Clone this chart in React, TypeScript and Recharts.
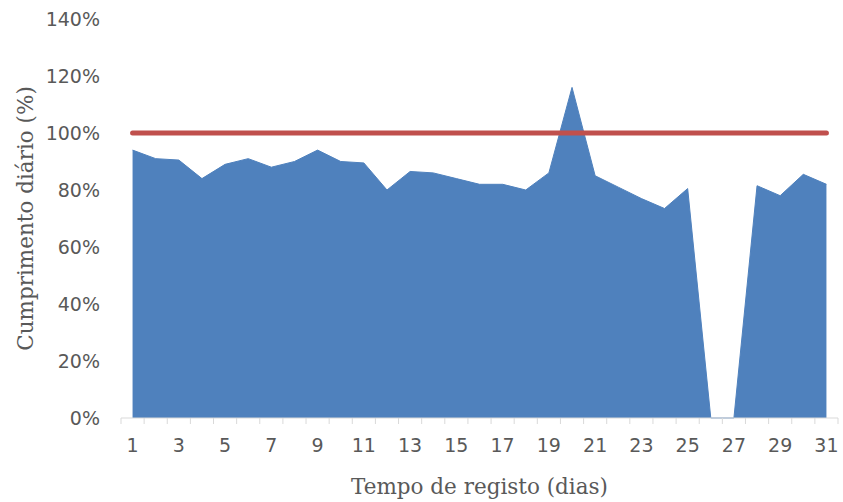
import React from 'react';
import { ComposedChart, Area, Line, XAxis, YAxis, Label } from 'recharts';

// daily compliance (%) for days 1..31
const days = [1, 2, 3, 4, 5, 6, 7, 8, 9, 10, 11, 12, 13, 14, 15, 16, 17, 18, 19, 20, 21, 22, 23, 24, 25, 26, 27, 28, 29, 30, 31];
const cumprimento = [94, 91, 90.5, 84, 89, 91, 88, 90, 94, 90, 89.5, 80, 86.5, 86, 84, 82, 82, 80, 86, 116, 85, 81, 77, 73.5, 80.5, 0, 0, 81.5, 78, 85.5, 82];
const meta = [100, 100, 100, 100, 100, 100, 100, 100, 100, 100, 100, 100, 100, 100, 100, 100, 100, 100, 100, 100, 100, 100, 100, 100, 100, 100, 100, 100, 100, 100, 100];
const yTicks = [0, 20, 40, 60, 80, 100, 120, 140];
// category boundaries get a tick mark, odd days get a label
const xTicks = [0.5, 1, 1.5, 2, 2.5, 3, 3.5, 4, 4.5, 5, 5.5, 6, 6.5, 7, 7.5, 8, 8.5, 9, 9.5, 10, 10.5, 11, 11.5, 12, 12.5, 13, 13.5, 14, 14.5, 15, 15.5, 16, 16.5, 17, 17.5, 18, 18.5, 19, 19.5, 20, 20.5, 21, 21.5, 22, 22.5, 23, 23.5, 24, 24.5, 25, 25.5, 26, 26.5, 27, 27.5, 28, 28.5, 29, 29.5, 30, 30.5, 31, 31.5];

const data = days.map((d, i) => ({ dia: d, cumprimento: cumprimento[i], meta: meta[i] }));

const textColor = '#595959';
const tickFont = '"DejaVu Sans", sans-serif';
const titleFont = '"DejaVu Serif", serif';

const DayTick = (props: any) => {
  const { x, y, payload } = props;
  const v = payload.value;
  if (v % 1 !== 0) {
    return <line x1={x} y1={y} x2={x} y2={y + 6} stroke="#d9d9d9" strokeWidth={1} />;
  }
  if (v % 2 === 1) {
    return (
      <text x={x} y={y + 34} textAnchor="middle" fill={textColor} fontSize={19} fontFamily={tickFont}>
        {v}
      </text>
    );
  }
  return null;
};

export default function App() {
  return (
    <div style={{ width: 843, height: 502 }}>
      <style>{'body{margin:0}'}</style>
      <ComposedChart width={843} height={502} data={data} margin={{ top: 19, right: 5, bottom: 4, left: 0 }}>
        <XAxis
          dataKey="dia"
          type="number"
          domain={[0.5, 31.5]}
          ticks={xTicks}
          interval={0}
          height={80}
          tickSize={0}
          tickMargin={0}
          tickLine={false}
          axisLine={{ stroke: '#d9d9d9', strokeWidth: 1 }}
          tick={<DayTick />}
        >
          <Label
            value="Tempo de registo (dias)"
            position="insideBottom"
            offset={4}
            fill={textColor}
            fontSize={21.5}
            fontFamily={titleFont}
          />
        </XAxis>
        <YAxis
          domain={[0, 140]}
          ticks={yTicks}
          width={121}
          axisLine={false}
          tickLine={false}
          tickSize={0}
          tickMargin={21}
          tickFormatter={(v: number) => `${v}%`}
          tick={{ fill: textColor, fontSize: 19, fontFamily: tickFont }}
        >
          <Label
            value="Cumprimento diário (%)"
            angle={-90}
            position="insideLeft"
            offset={25}
            fill={textColor}
            fontSize={21.5}
            fontFamily={titleFont}
            style={{ textAnchor: 'middle' }}
          />
        </YAxis>
        <Area
          dataKey="cumprimento"
          type="linear"
          fill="#4f81bd"
          fillOpacity={1}
          stroke="#4f81bd"
          strokeWidth={1}
          isAnimationActive={false}
        />
        <Line
          dataKey="meta"
          type="linear"
          stroke="#c0504d"
          strokeWidth={5}
          strokeLinecap="round"
          dot={false}
          activeDot={false}
          isAnimationActive={false}
        />
      </ComposedChart>
    </div>
  );
}
